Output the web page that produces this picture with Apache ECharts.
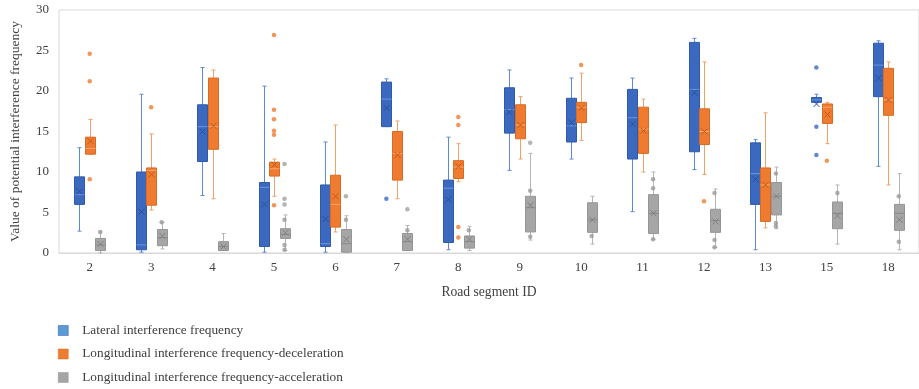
<!DOCTYPE html>
<html><head><meta charset="utf-8">
<script src="https://cdn.jsdelivr.net/npm/echarts@6/dist/echarts.min.js"></script>
<style>html,body{margin:0;padding:0;background:#fff}#c{width:919px;height:389px}</style>
</head><body><div id="c"></div><script>
// Road segment IDs
const categories = ['2','3','4','5','6','7','8','9','10','11','12','13','15','18'];
const yTicks = [0, 5, 10, 15, 20, 25, 30];

// [min, q1, median, q3, max, mean] per road segment
const lateral = [
  [2.7, 6.0, 7.2, 9.4, 13.0, 7.6],
  [0.1, 0.4, 1.0, 10.0, 19.6, 5.1],
  [7.1, 11.3, 15.6, 18.3, 22.9, 15.0],
  [0.1, 0.8, 8.1, 8.7, 20.6, 6.0],
  [0.1, 0.8, 1.15, 8.4, 13.7, 4.2],
  [15.6, 15.6, 19.0, 21.1, 21.5, 17.9],
  [0.4, 1.3, 8.0, 9.0, 14.3, 6.6],
  [10.2, 14.8, 17.7, 20.4, 22.6, 17.4],
  [11.6, 13.7, 15.7, 19.1, 21.6, 16.1],
  [5.1, 11.6, 16.7, 20.2, 21.6, 15.9],
  [10.3, 12.5, 20.2, 26.0, 26.5, 19.8],
  [0.4, 6.0, 9.8, 13.6, 14.0, 9.1],
  [18.6, 18.6, 18.9, 19.2, 19.6, 18.4],
  [10.7, 19.3, 23.2, 25.9, 26.2, 21.6]
];
const lateralOutliers = [['7', 6.7], ['15', 22.9], ['15', 15.6], ['15', 12.1]];

const deceleration = [
  [12.2, 12.2, 12.9, 14.3, 16.5, 13.8],
  [5.3, 5.9, 10.2, 10.5, 14.7, 9.7],
  [6.7, 12.8, 15.6, 21.6, 22.6, 15.7],
  [7.0, 9.5, 10.4, 11.2, 11.6, 10.9],
  [2.6, 3.2, 6.0, 9.6, 15.8, 7.0],
  [6.7, 9.0, 12.3, 15.0, 16.3, 12.1],
  [8.8, 9.2, 10.6, 11.4, 13.5, 10.7],
  [11.6, 14.1, 15.8, 18.3, 19.3, 15.8],
  [13.9, 16.1, 18.0, 18.6, 22.2, 17.9],
  [10.0, 12.3, 15.3, 18.0, 19.0, 15.1],
  [9.7, 13.4, 15.0, 17.8, 23.6, 15.0],
  [3.1, 3.9, 8.4, 10.5, 17.3, 8.4],
  [13.5, 16.0, 18.0, 18.4, 18.6, 17.1],
  [8.4, 17.0, 18.9, 22.8, 23.6, 18.9]
];
const decelerationOutliers = [
  ['2', 24.6], ['2', 21.2], ['2', 9.1], ['3', 18.0],
  ['5', 26.9], ['5', 17.7], ['5', 16.5], ['5', 15.1], ['5', 14.6], ['5', 5.9],
  ['8', 16.8], ['8', 15.8], ['8', 3.2], ['8', 1.9], ['10', 23.2], ['12', 6.4], ['15', 11.4]
];

const acceleration = [
  [0.0, 0.3, 1.0, 1.8, 2.6, 1.1],
  [0.5, 0.9, 1.9, 2.9, 3.8, 2.1],
  [0.3, 0.3, 0.8, 1.4, 2.4, 0.8],
  [0.3, 1.8, 2.3, 3.0, 4.7, 2.5],
  [0.1, 0.1, 1.15, 2.9, 4.6, 1.7],
  [0.3, 0.3, 1.4, 2.4, 3.4, 1.7],
  [0.3, 0.6, 1.4, 2.1, 3.3, 1.7],
  [1.6, 2.6, 5.6, 7.0, 12.3, 5.9],
  [1.1, 2.55, 4.1, 6.2, 7.0, 4.1],
  [1.7, 2.4, 4.9, 7.2, 10.0, 4.9],
  [0.7, 2.55, 4.0, 5.4, 7.9, 3.9],
  [3.0, 4.7, 7.0, 8.7, 10.6, 7.0],
  [1.1, 3.0, 4.9, 6.3, 8.4, 4.6],
  [0.4, 2.8, 4.9, 6.0, 9.8, 4.1]
];
const accelerationOutliers = [['5', 11.0], ['5', 6.7], ['5', 6.0], ['6', 7.0], ['7', 5.4], ['9', 13.6]];
const accelerationInnerPoints = [
  ['2', 2.6], ['3', 3.8], ['5', 4.1], ['5', 1.0], ['5', 0.4], ['6', 4.1], ['7', 2.8], ['8', 2.8],
  ['9', 7.7], ['9', 2.0], ['10', 2.1], ['11', 9.1], ['11', 8.0], ['11', 1.7],
  ['12', 7.4], ['12', 1.6], ['12', 0.7], ['13', 3.7], ['13', 3.3], ['13', 9.8],
  ['15', 7.4], ['18', 7.0], ['18', 1.4]
];

const names = [
  'Lateral interference frequency',
  'Longitudinal interference frequency-deceleration',
  'Longitudinal interference frequency-acceleration'
];

const BOX_W = 10;
const OFFSETS = [-10.5, 0, 10.5];
const STY = [
  { fill: '#3a69bf', border: '#2f5aa8', whisker: '#5a8ad6', median: '#6d97dc', mean: '#2a4f99', dot: '#3a69bf', legend: '#5b9bd5' },
  { fill: '#ee7b30', border: '#d86a22', whisker: '#f0a069', median: '#f3a570', mean: '#c25a15', dot: '#ee7b30', legend: '#ed7d31' },
  { fill: '#a6a6a6', border: '#959595', whisker: '#b5b5b5', median: '#8a8a8a', mean: '#7f7f7f', dot: '#a0a0a0', legend: '#a5a5a5' }
];

function boxRenderer(k) {
  const c = STY[k], off = OFFSETS[k];
  return function (params, api) {
    const idx = api.value(0);
    const cx = Math.round(api.coord([idx, 0])[0] + off) + 0.5;
    const py = v => api.coord([idx, v])[1];
    const mn = py(api.value(1)), q1 = py(api.value(2)), md = py(api.value(3)),
          q3 = py(api.value(4)), mx = py(api.value(5)), mean = py(api.value(6));
    const hw = BOX_W / 2, cap = 2, xs = 3;
    const wl = { stroke: c.whisker, lineWidth: 1 };
    return {
      type: 'group',
      children: [
        { type: 'line', shape: { x1: cx, y1: mx, x2: cx, y2: q3 }, style: wl },
        { type: 'line', shape: { x1: cx, y1: q1, x2: cx, y2: mn }, style: wl },
        { type: 'line', shape: { x1: cx - cap, y1: mx, x2: cx + cap, y2: mx }, style: wl },
        { type: 'line', shape: { x1: cx - cap, y1: mn, x2: cx + cap, y2: mn }, style: wl },
        { type: 'rect', shape: { x: cx - hw, y: q3, width: BOX_W, height: Math.max(q1 - q3, 1) },
          style: { fill: c.fill, stroke: c.border, lineWidth: 1 } },
        { type: 'line', shape: { x1: cx - hw, y1: md, x2: cx + hw, y2: md }, style: { stroke: c.median, lineWidth: 1 } },
        { type: 'line', shape: { x1: cx - xs, y1: mean - xs, x2: cx + xs, y2: mean + xs }, style: { stroke: c.mean, lineWidth: 1 } },
        { type: 'line', shape: { x1: cx - xs, y1: mean + xs, x2: cx + xs, y2: mean - xs }, style: { stroke: c.mean, lineWidth: 1 } }
      ]
    };
  };
}

const boxData = [lateral, deceleration, acceleration];
const outData = [lateralOutliers, decelerationOutliers, accelerationOutliers];

const series = [];
boxData.forEach((arr, k) => {
  series.push({
    name: names[k],
    type: 'custom',
    renderItem: boxRenderer(k),
    itemStyle: { color: STY[k].legend },
    encode: { x: 0, y: [1, 2, 3, 4, 5, 6] },
    data: arr.map((d, i) => [i].concat(d)),
    z: 2
  });
  series.push({
    name: names[k],
    type: 'scatter',
    symbol: 'circle',
    symbolSize: 4.5,
    symbolOffset: [OFFSETS[k], 0],
    itemStyle: { color: STY[k].dot },
    data: outData[k],
    z: 3
  });
});
series.push({
  name: names[2],
  type: 'scatter',
  symbol: 'circle',
  symbolSize: 4.5,
  symbolOffset: [OFFSETS[2], 0],
  itemStyle: { color: '#9a9a9a' },
  data: accelerationInnerPoints,
  z: 3
});

const FONT = '"Liberation Serif", "DejaVu Serif", serif';
const chart = echarts.init(document.getElementById('c'), null, { renderer: 'canvas' });
chart.setOption({
  animation: false,
  backgroundColor: '#ffffff',
  grid: { left: 59, top: 10, width: 869, height: 243, show: true, borderColor: '#d9d9d9', borderWidth: 1 },
  legend: {
    orient: 'vertical',
    left: 58,
    top: 323,
    height: 80,
    padding: 0,
    itemWidth: 10,
    itemHeight: 10,
    itemGap: 8.5,
    icon: 'rect',
    selectedMode: false,
    textStyle: { fontFamily: FONT, fontSize: 13.3, color: '#404040', padding: [0, 0, 0, 9], lineHeight: 15 },
    data: names.map((n, k) => ({ name: n, itemStyle: { color: STY[k].legend, borderColor: STY[k].border, borderWidth: 0.5 } }))
  },
  xAxis: {
    type: 'category',
    data: categories,
    name: 'Road segment ID',
    nameLocation: 'middle',
    nameGap: 32,
    nameTextStyle: { fontFamily: FONT, fontSize: 13.6, color: '#404040' },
    axisLine: { lineStyle: { color: '#d9d9d9' } },
    axisTick: { show: false },
    axisLabel: { fontFamily: FONT, fontSize: 13, color: '#404040', margin: 8 },
    splitLine: { show: false }
  },
  yAxis: {
    type: 'value',
    min: yTicks[0],
    max: yTicks[yTicks.length - 1],
    interval: yTicks[1] - yTicks[0],
    name: 'Value of potential interference frequency',
    nameLocation: 'middle',
    nameGap: 37,
    nameTextStyle: { fontFamily: FONT, fontSize: 13.5, color: '#404040' },
    axisLine: { show: false },
    axisTick: { show: false },
    axisLabel: { fontFamily: FONT, fontSize: 13, color: '#404040', margin: 10 },
    splitLine: { show: false }
  },
  series: series
});
</script></body></html>
